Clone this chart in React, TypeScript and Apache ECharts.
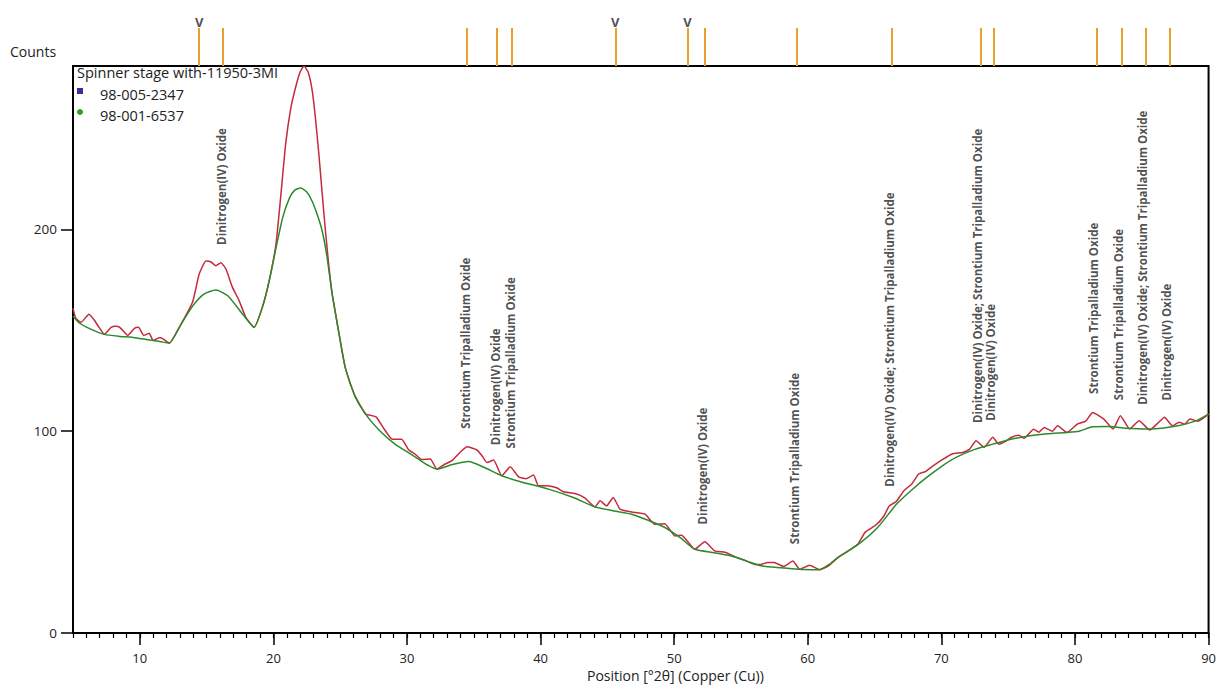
import React, { useEffect, useRef } from "react";
import * as echarts from "echarts";

// Observed profile (red): [2θ, counts]
const observedCounts: [number, number][] = [
  [5.0, 161], [5.2, 156], [5.6, 154], [6.2, 158], [6.6, 155], [7.0, 151], [7.35, 148],
  [7.85, 151.5], [8.2, 152], [8.5, 151.5], [9.1, 147.5], [9.6, 151], [9.9, 151.5],
  [10.3, 147.5], [10.7, 148.5], [11.0, 145], [11.5, 146.5], [11.8, 145.5], [12.2, 143.6],
  [13.0, 152], [13.95, 164], [14.45, 178], [14.95, 184.3], [15.3, 184], [15.7, 182],
  [16.07, 183.5], [16.44, 180.5], [16.93, 171.4], [17.43, 164.8], [17.93, 156.5],
  [18.55, 151.5], [19.2, 162], [19.7, 175], [20.2, 193], [20.6, 220], [20.92, 242.5],
  [21.3, 260], [21.67, 270.6], [22.0, 278], [22.29, 281], [22.6, 278], [22.9, 269],
  [23.15, 255], [23.4, 237.6], [23.65, 218], [23.9, 199], [24.15, 182], [24.4, 168],
  [25.0, 145], [25.4, 131], [26.1, 117.5], [26.9, 108.5], [27.2, 108], [27.7, 107],
  [28.3, 101], [28.9, 96], [29.6, 96], [30.1, 91], [30.6, 88.7], [31.1, 86],
  [31.75, 86.2], [32.24, 81.2], [32.8, 83.5], [33.37, 85.4], [33.9, 89], [34.49, 92.3],
  [35.23, 90.7], [35.6, 88], [35.98, 84.5], [36.48, 85.7], [37.1, 77.9], [37.73, 82.4],
  [38.35, 77.4], [38.9, 76.5], [39.47, 78.3], [39.84, 73], [40.5, 73], [41.2, 72],
  [41.7, 70], [42.58, 69.1], [43.3, 67], [44.07, 62.5], [44.45, 65.5], [44.94, 63],
  [45.44, 67.2], [45.94, 61.4], [46.81, 60], [47.8, 59], [48.55, 53.9], [49.3, 54.2],
  [50.05, 48.1], [50.55, 48.5], [51.54, 41.5], [52.29, 45.2], [53.04, 40.7], [53.8, 40],
  [54.5, 38], [55.3, 36], [56.0, 34], [56.5, 34], [57.0, 35], [57.5, 34.9], [58.2, 33],
  [58.88, 35.7], [59.4, 31.6], [60.14, 33.6], [60.88, 31.4], [61.5, 33], [62.25, 37.4],
  [63.0, 40.5], [63.74, 44], [64.3, 50], [65.1, 53.5], [65.7, 58], [66.1, 63],
  [66.6, 65], [67.2, 70.5], [67.8, 74], [68.3, 78.8], [68.8, 80], [69.4, 82.9],
  [70.1, 86], [70.8, 88.7], [71.6, 89.5], [72.1, 91], [72.6, 95.3], [73.2, 92],
  [73.85, 97], [74.3, 93.6], [74.8, 95], [75.25, 97], [75.8, 98], [76.2, 96.5],
  [76.9, 101], [77.3, 99.5], [77.7, 101.9], [78.3, 100], [78.7, 102.7], [79.4, 99.4],
  [80.2, 103.6], [80.8, 105], [81.33, 109.3], [82.16, 106], [82.86, 101.1], [83.4, 107.7],
  [84.1, 101.1], [84.8, 105.2], [85.6, 100.6], [86.2, 104], [86.7, 106.9], [87.3, 102.7],
  [87.8, 104.5], [88.2, 103.5], [88.6, 106], [89.2, 105], [90.0, 108.5],
];

// Calculated profile (green): [2θ, counts]
const calculatedCounts: [number, number][] = [
  [5.0, 157], [5.5, 153.5], [6.2, 151], [7.35, 148], [8.5, 147], [9.5, 146.5],
  [10.5, 145.5], [11.5, 144.5], [12.2, 143.6], [13.0, 152], [13.95, 162], [14.8, 168],
  [15.7, 170], [16.6, 167], [17.7, 158], [18.55, 151.5], [19.2, 162], [19.7, 175],
  [20.2, 191], [20.7, 206], [21.2, 215.5], [21.6, 219.5], [22.04, 220.5], [22.5, 218.5],
  [22.9, 214], [23.3, 207], [23.66, 199], [24.0, 187], [24.4, 168], [25.0, 145],
  [25.4, 131], [26.1, 117.5], [26.9, 108.5], [28.0, 100], [29.1, 93.6], [30.2, 89],
  [31.0, 85.5], [31.6, 83], [32.24, 81.2], [33.4, 83.5], [34.6, 85], [35.8, 82],
  [37.1, 77.9], [38.5, 75], [40.59, 71.3], [42.5, 67], [44.07, 62.5], [45.5, 60.5],
  [46.81, 58.9], [48.0, 56], [49.3, 52.3], [50.5, 47], [51.54, 41.5], [53.0, 39.8],
  [54.28, 38.2], [55.5, 35.5], [56.5, 33.3], [58.0, 32.3], [59.26, 31.6], [60.88, 31.4],
  [61.6, 34], [62.25, 37.4], [63.9, 44.5], [65.23, 52.3], [66.65, 63.9], [67.8, 71],
  [68.9, 77.1], [70.0, 82.5], [71.1, 87], [72.5, 91], [73.87, 93.6], [75.2, 96],
  [76.63, 97.8], [78.0, 98.8], [79.4, 99.4], [80.3, 100], [81.33, 102.2], [82.5, 102.3],
  [83.8, 101.5], [85.47, 101.1], [86.5, 101.5], [87.7, 102.7], [89.0, 105], [90.0, 108.5],
];

// Reference pattern stick positions (°2θ)
const stickPositions = [14.41, 16.14, 34.4, 36.64, 37.77, 45.47, 50.86, 52.13, 59.02, 66.13, 72.71, 73.69, 81.39, 83.26, 85.06, 86.85];
const markedPositions = [14.41, 45.47, 50.86];

// Phase labels
const labelPositions = [16.14, 34.4, 36.64, 37.77, 52.13, 59.02, 66.13, 72.71, 73.69, 81.39, 83.26, 85.06, 86.85];
const labelTexts = [
  "Dinitrogen(IV) Oxide",
  "Strontium Tripalladium Oxide",
  "Dinitrogen(IV) Oxide",
  "Strontium Tripalladium Oxide",
  "Dinitrogen(IV) Oxide",
  "Strontium Tripalladium Oxide",
  "Dinitrogen(IV) Oxide; Strontium Tripalladium Oxide",
  "Dinitrogen(IV) Oxide; Strontium Tripalladium Oxide",
  "Dinitrogen(IV) Oxide",
  "Strontium Tripalladium Oxide",
  "Strontium Tripalladium Oxide",
  "Dinitrogen(IV) Oxide; Strontium Tripalladium Oxide",
  "Dinitrogen(IV) Oxide",
];

const xMajorTicks = [10, 20, 30, 40, 50, 60, 70, 80, 90];
const yTicks = [0, 100, 200];

const FONT = "Open Sans";

function interpAt(data: [number, number][], x: number): number {
  for (let i = 0; i < data.length - 1; i++) {
    const [x0, y0] = data[i];
    const [x1, y1] = data[i + 1];
    if (x >= x0 && x <= x1) return y0 + ((y1 - y0) * (x - x0)) / (x1 - x0);
  }
  return data[data.length - 1][1];
}

export default function App() {
  const ref = useRef<HTMLDivElement>(null);

  useEffect(() => {
    if (!ref.current) return;
    const chart = echarts.init(ref.current, null, { renderer: "svg" });
    const minorTicks: number[] = [];
    for (let v = 5; v <= 90; v++) minorTicks.push(v);

    const option: any = {
      animation: false,
      backgroundColor: "#fff",
      grid: [
        { left: 73, right: 7, top: 66, bottom: 55, show: true, borderColor: "#000", borderWidth: 2, backgroundColor: "transparent" },
        { left: 73, right: 7, top: 28, height: 38, show: false },
      ],
      xAxis: [
        {
          type: "value", gridIndex: 0, min: 5, max: 90, position: "bottom",
          axisLine: { show: true, lineStyle: { color: "#000", width: 2 } },
          axisTick: { show: true, customValues: xMajorTicks, length: 12, lineStyle: { color: "#000", width: 1.5 } },
          axisLabel: { customValues: xMajorTicks, margin: 18, fontSize: 13, color: "#222", fontFamily: FONT },
          splitLine: { show: false },
        },
        {
          type: "value", gridIndex: 0, min: 5, max: 90, position: "bottom", offset: 0,
          axisLine: { show: false },
          axisTick: { show: true, customValues: minorTicks, length: 5, lineStyle: { color: "#000", width: 1.2 } },
          axisLabel: { show: false },
          splitLine: { show: false },
        },
        { type: "value", gridIndex: 1, min: 5, max: 90, show: false },
      ],
      yAxis: [
        {
          type: "value", gridIndex: 0, min: 0, max: 281,
          axisLine: { show: true, lineStyle: { color: "#000", width: 2 } },
          axisTick: { show: true, customValues: yTicks, length: 12, lineStyle: { color: "#000", width: 1.5 } },
          axisLabel: { customValues: yTicks, margin: 16, fontSize: 13.5, color: "#222", fontFamily: FONT },
          splitLine: { show: false },
        },
        { type: "value", gridIndex: 1, min: 0, max: 1, show: false },
      ],
      series: [
        {
          type: "line", xAxisIndex: 0, yAxisIndex: 0, data: observedCounts,
          showSymbol: false, smooth: 0.15, lineStyle: { color: "#c42a3c", width: 1.5 }, silent: true,
        },
        {
          type: "line", xAxisIndex: 0, yAxisIndex: 0, data: calculatedCounts,
          showSymbol: false, smooth: 0.2, lineStyle: { color: "#2b8a2b", width: 1.5 }, silent: true,
        },
        {
          type: "scatter", xAxisIndex: 0, yAxisIndex: 0, symbolSize: 0, silent: true,
          data: labelPositions.map((x, i) => ({
            value: [x, interpAt(observedCounts, x)],
            label: { formatter: labelTexts[i] },
          })),
          label: {
            show: true, position: "top", distance: 19, rotate: 90, align: "left", verticalAlign: "middle",
            fontSize: 11.5, fontWeight: "bold", color: "#222", fontFamily: FONT,
          },
        },
        {
          type: "line", xAxisIndex: 2, yAxisIndex: 1, data: [[5, 0], [90, 0]],
          showSymbol: false, lineStyle: { width: 0, opacity: 0 }, silent: true,
          markLine: {
            silent: true, symbol: ["none", "none"], animation: false,
            label: { show: false },
            lineStyle: { color: "#e8a030", width: 2, type: "solid" },
            data: stickPositions.map((x) => ({ xAxis: x })),
          },
        },
        {
          type: "scatter", xAxisIndex: 2, yAxisIndex: 1, symbolSize: 0, silent: true,
          data: markedPositions.map((x) => [x, 1]),
          label: {
            show: true, position: "top", distance: 0, formatter: "V",
            fontSize: 13, fontWeight: "bold", color: "#222", fontFamily: FONT,
          },
        },
      ],
      graphic: [
        { type: "text", left: 10, top: 44, style: { text: "Counts", fontSize: 14, fill: "#222", fontFamily: FONT } },
        { type: "text", left: 77, top: 65, style: { text: "Spinner stage with-11950-3MI", fontSize: 14.5, fill: "#222", fontFamily: FONT } },
        { type: "rect", shape: { x: 77, y: 88, width: 6, height: 6 }, style: { fill: "#3b2f8f" } },
        { type: "text", left: 100, top: 87, style: { text: "98-005-2347", fontSize: 14.5, fill: "#222", fontFamily: FONT } },
        { type: "circle", shape: { cx: 80, cy: 112, r: 3 }, style: { fill: "#22a02a" } },
        { type: "text", left: 100, top: 108, style: { text: "98-001-6537", fontSize: 14.5, fill: "#222", fontFamily: FONT } },
        { type: "text", left: 587, top: 668, style: { text: "Position [°2θ] (Copper (Cu))", fontSize: 14, fill: "#222", fontFamily: FONT } },
      ],
    };
    chart.setOption(option);
    return () => chart.dispose();
  }, []);

  return (
    <div
      ref={ref}
      style={{ position: "fixed", left: 0, top: 0, width: 1219, height: 688, background: "#fff" }}
    />
  );
}
